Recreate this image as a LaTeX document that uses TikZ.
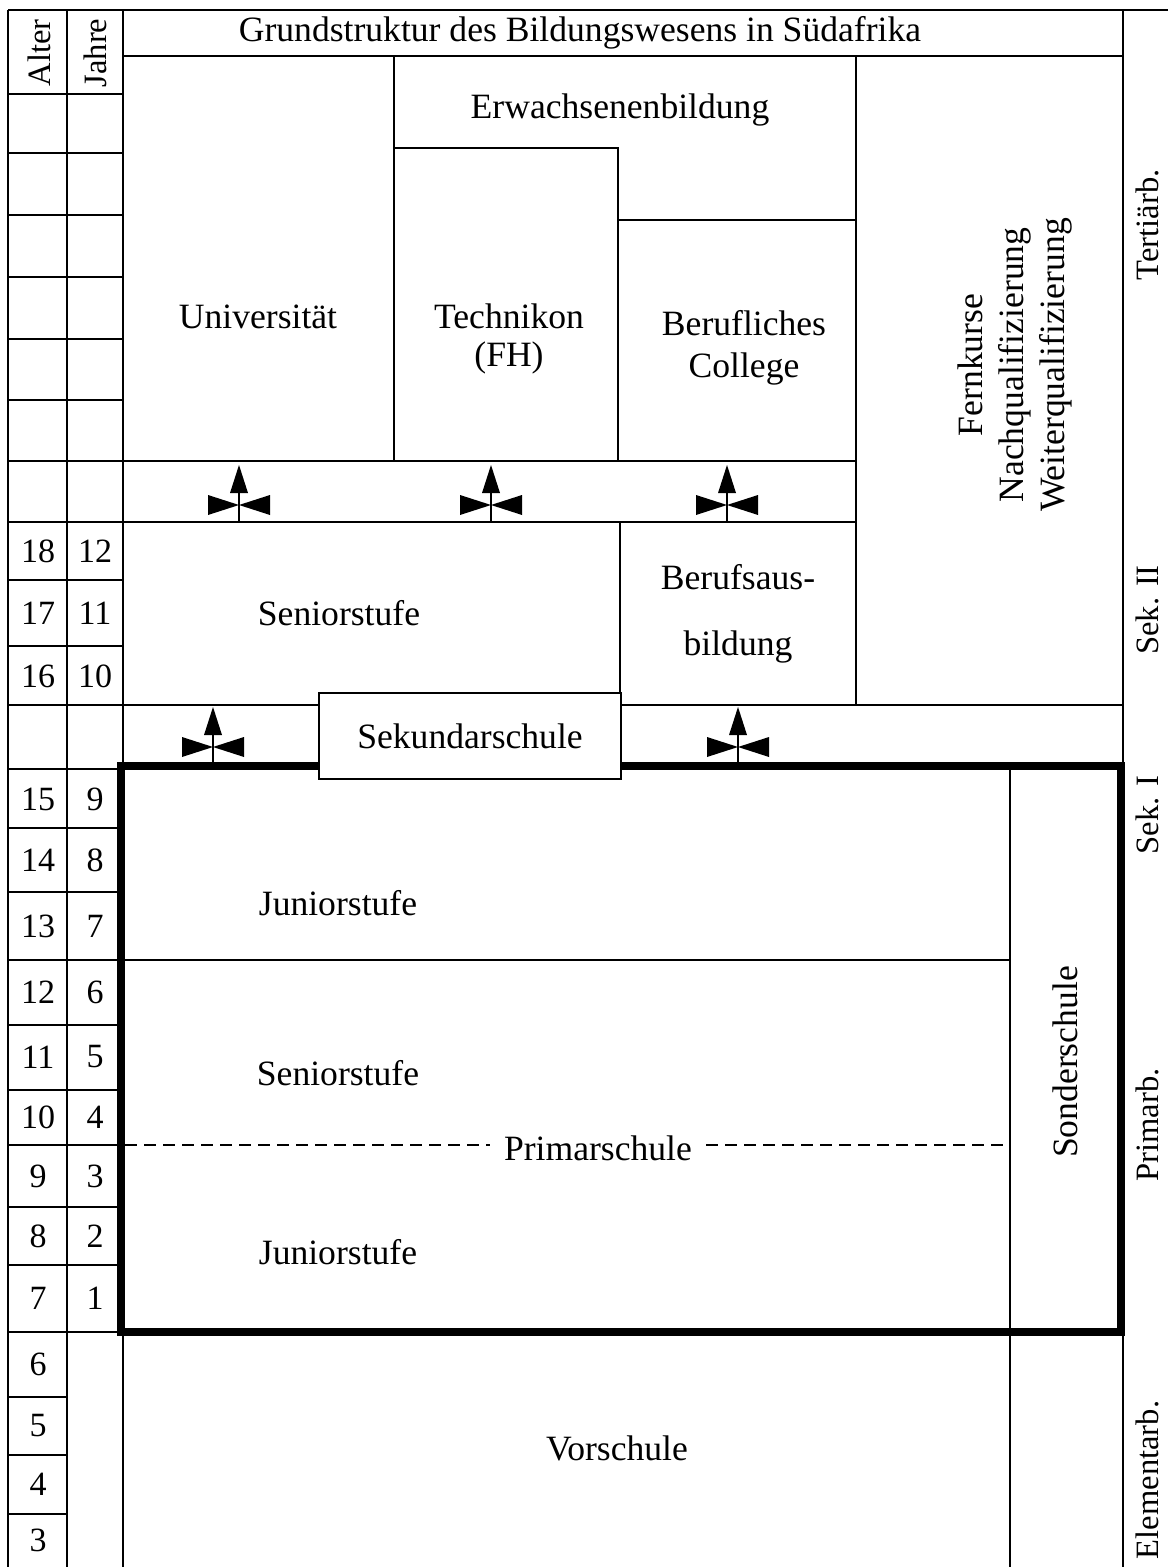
\documentclass[tikz,border=0pt]{standalone}
\usepackage{fontspec}
\setmainfont{Liberation Serif}
\begin{document}
\begin{tikzpicture}[x=0.5pt,y=-0.5pt,
  thinline/.style={line width=1pt},
  thickline/.style={line width=4pt},
  lbl/.style={font=\fontsize{17.8}{19}\selectfont, inner sep=0pt, align=center},
  side/.style={font=\fontsize{16.3}{19}\selectfont, inner sep=0pt, rotate=90},
  head/.style={font=\fontsize{16.3}{19}\selectfont, inner sep=0pt, rotate=90},
  num/.style={font=\fontsize{17}{18}\selectfont, inner sep=0pt},
  uparr/.pic={
    \draw[thinline] (0,0) -- (0,-29);
    \fill (-9,-29) -- (9,-29) -- (0,-57) -- cycle;
    \fill (0,-17) -- (-31,-27) -- (-31,-7) -- cycle;
    \fill (0,-17) -- (31,-27) -- (31,-7) -- cycle;
  }]
\useasboundingbox (0,0) rectangle (1168,1567);

% ---- outer frame lines ----
\draw[thinline] (8,10) -- (1168,10);
\draw[thinline] (8,10) -- (8,1567);
\draw[thinline] (67,10) -- (67,1567);
\draw[thinline] (123,10) -- (123,1567);
\draw[thinline] (1123,10) -- (1123,1567);

% ---- left column rows ----
\foreach \yy in {94,153,215,277,339,400,461,522,580,646,705,769,828,892,960,1025,1090,1145,1207,1265,1332}
  \draw[thinline] (8,\yy) -- (123,\yy);
\foreach \yy in {1397,1455,1514}
  \draw[thinline] (8,\yy) -- (67,\yy);

% ---- tertiary area ----
\draw[thinline] (123,56) -- (1123,56);
\draw[thinline] (394,56) -- (394,461);
\draw[thinline] (394,148) -- (618,148) -- (618,461);
\draw[thinline] (618,220) -- (856,220);
\draw[thinline] (856,56) -- (856,705);
\draw[thinline] (123,461) -- (856,461);
\draw[thinline] (123,522) -- (856,522);
\draw[thinline] (620,522) -- (620,705);
\draw[thinline] (123,705) -- (1123,705);

% ---- primary / secondary I block ----
\draw[thinline] (121,960) -- (1010,960);
\draw[thinline] (1010,766) -- (1010,1567);
\draw[thickline] (121,766) rectangle (1121,1332);

% ---- arrows ----
\pic at (239,522) {uparr};
\pic at (491,522) {uparr};
\pic at (727,522) {uparr};
\pic at (213,764) {uparr};
\pic at (738,764) {uparr};

% ---- Sekundarschule box ----
\node[lbl, draw, thinline, fill=white, minimum width=151pt, minimum height=43pt] (sek) at (470,736) {Sekundarschule};

% ---- dashed Primarschule line ----
\node[lbl, inner xsep=7pt] (prim) at (598,1148) {Primarschule};
\draw[thinline, dash pattern=on 6pt off 3.5pt] (125,1145) -- (prim.west |- 0,1145);
\draw[thinline, dash pattern=on 6pt off 3.5pt] (prim.east |- 0,1145) -- (1010,1145);

% ---- texts ----
\node[lbl] (title) at (580,33) {Grundstruktur des Bildungswesens in Südafrika};
\node[head] (alter) at (39,53) {Alter};
\node[head] (jahre) at (95,53) {Jahre};
\node[lbl] (uni) at (258,317) {Universität};
\node[lbl] (erw) at (620,110) {Erwachsenenbildung};
\node[lbl] (tech) at (509,339) {Technikon\\(FH)};
\node[lbl, font=\fontsize{17.8}{21}\selectfont] (coll) at (744,348) {Berufliches\\College};
\node[lbl, rotate=90, font=\fontsize{17.8}{20.5}\selectfont] (fern) at (1015,365) {Fernkurse\\Nachqualifizierung\\Weiterqualifizierung};
\node[lbl] (sen2) at (339,613) {Seniorstufe};
\node[lbl, font=\fontsize{17.8}{33}\selectfont] (beruf) at (738,614) {Berufsaus-\\bildung};
\node[lbl] (jun1) at (338,903) {Juniorstufe};
\node[lbl] (sen1) at (338,1073) {Seniorstufe};
\node[lbl] (jun2) at (338,1252) {Juniorstufe};
\node[lbl] (vor) at (617,1448) {Vorschule};
\node[lbl, rotate=90] (sond) at (1065,1062) {Sonderschule};

% ---- right stage labels ----
\node[side] (tert) at (1147,225) {Tertiärb.};
\node[side] (sek2) at (1147,610) {Sek. II};
\node[side] (sek1) at (1147,815) {Sek. I};
\node[side] (primb) at (1147,1125) {Primarb.};
\node[side] (elem) at (1147,1480) {Elementarb.};

% ---- age / year numbers ----
\foreach \a/\j/\yy in {18/12/551,17/11/613,16/10/676,15/9/799,14/8/860,13/7/926,12/6/992,11/5/1057,10/4/1117,9/3/1176,8/2/1236,7/1/1298}{
  \node[num] (a\a) at (38,\yy) {\a};
  \node[num] (j\j) at (95,\yy) {\j};
}
\foreach \a/\yy in {6/1364,5/1426,4/1484,3/1540}
  \node[num] (a\a) at (38,\yy) {\a};
\end{tikzpicture}
\end{document}
